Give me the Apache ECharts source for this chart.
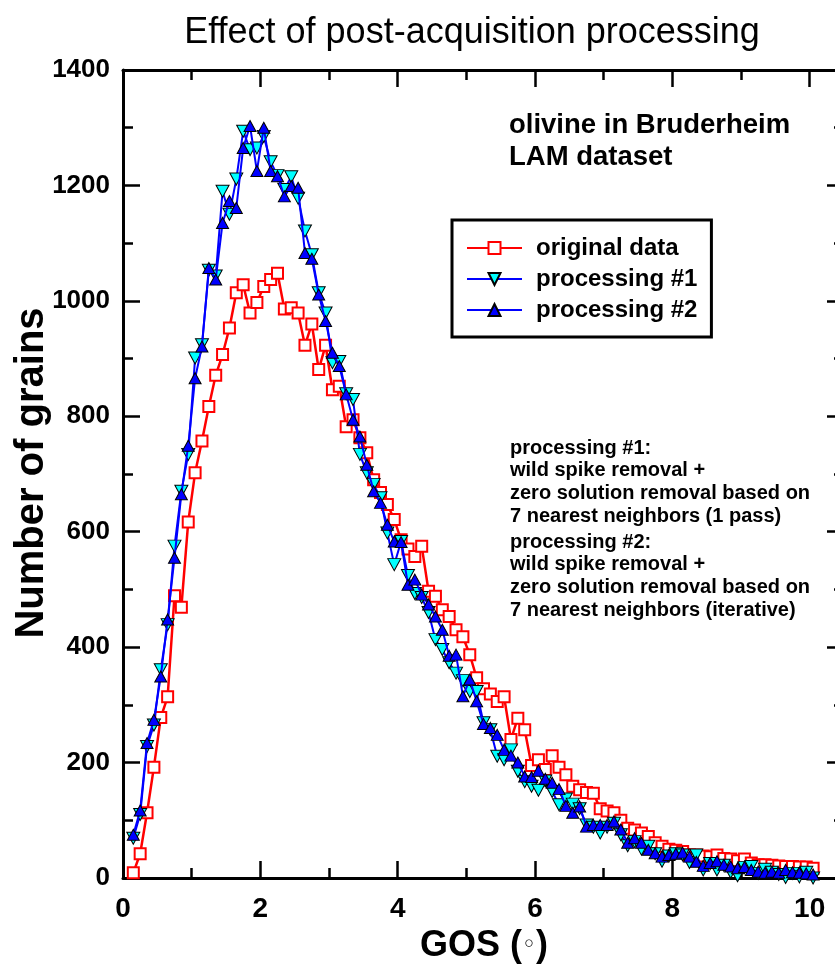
<!DOCTYPE html>
<html><head><meta charset="utf-8">
<script src="https://cdn.jsdelivr.net/npm/echarts@6/dist/echarts.min.js"></script>
<style>html,body{margin:0;padding:0;background:#fff;overflow:hidden}#c{width:835px;height:968px}</style>
</head><body><div id="c"></div>
<script>
// GOS bin centres (degrees)
const gos = [
 0.15,0.25,0.35,0.45,0.55,0.65,0.75,0.85,0.95,1.05,
 1.15,1.25,1.35,1.45,1.55,1.65,1.75,1.85,1.95,2.05,
 2.15,2.25,2.35,2.45,2.55,2.65,2.75,2.85,2.95,3.05,
 3.15,3.25,3.35,3.45,3.55,3.65,3.75,3.85,3.95,4.05,
 4.15,4.25,4.35,4.45,4.55,4.65,4.75,4.85,4.95,5.05,
 5.15,5.25,5.35,5.45,5.55,5.65,5.75,5.85,5.95,6.05,
 6.15,6.25,6.35,6.45,6.55,6.65,6.75,6.85,6.95,7.05,
 7.15,7.25,7.35,7.45,7.55,7.65,7.75,7.85,7.95,8.05,
 8.15,8.25,8.35,8.45,8.55,8.65,8.75,8.85,8.95,9.05,
 9.15,9.25,9.35,9.45,9.55,9.65,9.75,9.85,9.95,10.05];
const originalData = [
 9,42,113,192,278,314,489,469,617,702,
 757,817,871,907,953,1014,1028,979,997,1025,
 1037,1048,986,988,979,923,960,881,923,846,
 852,782,794,763,737,690,668,647,621,586,
 570,557,575,497,488,465,453,430,418,387,
 347,328,319,306,314,240,277,257,195,205,
 188,212,192,179,159,153,148,147,120,116,
 113,100,86,83,78,72,61,55,50,48,
 46,40,40,38,37,40,34,33,30,33,
 26,23,23,22,21,20,20,19,19,17];
const processing1 = [
 69,110,228,265,361,439,575,670,734,901,
 924,1053,1043,1190,1150,1211,1294,1262,1265,1285,
 1241,1217,1193,1215,1178,1121,1080,1014,979,893,
 895,839,829,734,702,682,659,598,543,583,
 524,493,486,460,413,396,373,355,342,323,
 323,269,257,211,205,222,185,167,159,152,
 168,150,127,137,128,120,92,88,78,88,
 95,75,56,63,50,55,42,29,38,42,
 40,27,40,14,25,14,22,10,4,18,
 20,8,15,10,6,1,8,2,10,0];
const processing2 = [
 75,117,234,274,349,448,555,665,749,866,
 921,1057,1037,1135,1173,1161,1265,1303,1225,1300,
 1225,1216,1181,1199,1196,1083,1073,1011,965,910,
 887,838,794,765,716,670,650,612,583,582,
 508,517,491,474,453,430,385,387,315,344,
 306,267,260,248,222,212,200,176,175,186,
 172,165,154,125,113,124,89,92,92,92,
 98,84,61,69,61,49,43,37,40,42,
 44,37,28,21,26,29,23,20,17,19,
 14,11,9,11,9,14,10,9,8,6];
const xTickLabels = [0,2,4,6,8,10];
const yTickLabels = [0,200,400,600,800,1000,1200,1400];
const seriesNames = ['original data','processing #1','processing #2'];
const note1 = ['processing #1:','wild spike removal +','zero solution removal based on','7 nearest neighbors (1 pass)'];
const note2 = ['processing #2:','wild spike removal +','zero solution removal based on','7 nearest neighbors (iterative)'];
const sample = ['olivine in Bruderheim','LAM dataset'];

const F = '"Liberation Sans", Arial, sans-serif';
const tickStyle = {color:'#000', width:2.5};
const lineAx = {show:true, onZero:false, lineStyle:{color:'#000', width:3}};
const noLine = {show:false, onZero:false};

function xAx(pos, major){
  return {
    type:'value', position:pos, min:0, max:10.5, interval: major?2:1,
    axisLine: major ? lineAx : noLine,
    axisTick:{show:true, inside:true, length: major?17:10, lineStyle:tickStyle},
    axisLabel:{show: major && pos==='bottom', margin:17, fontFamily:F, fontWeight:'bold', fontSize:28, color:'#000',
      formatter: v => xTickLabels.includes(v) ? String(v) : ''},
    splitLine:{show:false}
  };
}
function yAx(pos){
  return {
    type:'value', position:pos, min:0, max:1400, interval:200,
    axisLine: lineAx,
    axisTick:{show:true, inside:true, length:17, lineStyle:tickStyle},
    minorTick:{show:true, splitNumber:2, length:10, lineStyle:tickStyle},
    axisLabel:{show: pos==='left', margin:13, fontFamily:F, fontWeight:'bold', fontSize:26, color:'#000',
      formatter: v => yTickLabels.includes(v) ? String(v) : ''},
    splitLine:{show:false}, minorSplitLine:{show:false}
  };
}
function pts(vals){ return gos.map((x,i)=>[x, vals[i]]); }

const chart = echarts.init(document.getElementById('c'), null, {renderer:'canvas'});
const textEls = [];
textEls.push({type:'text', x:472, y:33, style:{text:'Effect of post-acquisition processing', font:'normal 36px '+F, fill:'#000', textAlign:'center', textVerticalAlign:'middle'}});
textEls.push({type:'text', x:32, y:473, rotation:Math.PI/2, style:{text:'Number of grains', font:'bold 40px '+F, fill:'#000', textAlign:'center', textVerticalAlign:'middle'}});
textEls.push({type:'text', x:484, y:946, style:{text:'{a|GOS (}{b|◦}{a|)}', textAlign:'center', textVerticalAlign:'middle',
  rich:{a:{fontFamily:F, fontWeight:'bold', fontSize:36, fill:'#000'}, b:{fontFamily:'DejaVu Sans', fontSize:24, fill:'#000'}}}});
sample.forEach((t,i)=>textEls.push({type:'text', x:509, y:125+i*32, style:{text:t, font:'bold 27.5px '+F, fill:'#000', textAlign:'left', textVerticalAlign:'middle'}}));
note1.forEach((t,i)=>textEls.push({type:'text', x:510, y:448+i*22.7, style:{text:t, font:'bold 20px '+F, fill:'#000', textAlign:'left', textVerticalAlign:'middle'}}));
note2.forEach((t,i)=>textEls.push({type:'text', x:510, y:542+i*22.7, style:{text:t, font:'bold 20px '+F, fill:'#000', textAlign:'left', textVerticalAlign:'middle'}}));

chart.setOption({
  animation:false,
  backgroundColor:'#fff',
  grid:{left:123, width:721, top:70, bottom:90, containLabel:false, outerBoundsMode:'none'},
  xAxis:[xAx('bottom',true), xAx('bottom',false), xAx('top',true), xAx('top',false)],
  yAxis:[yAx('left'), yAx('right')],
  legend:{show:true, orient:'vertical', left:452, top:220, itemWidth:55, itemHeight:15, itemGap:7,
    padding:[16,14,15,14], borderColor:'#000', borderWidth:3, backgroundColor:'#fff', selectedMode:false,
    textStyle:{fontFamily:F, fontWeight:'bold', fontSize:24, color:'#000', lineHeight:24, padding:[0,0,0,9]},
    data:seriesNames},
  series:[
    {name:seriesNames[0], type:'line', xAxisIndex:0, yAxisIndex:0, data:pts(originalData), z:2,
     symbol:'rect', symbolSize:11, showSymbol:true, showAllSymbol:true,
     lineStyle:{color:'#ff0000', width:2.5}, itemStyle:{color:'#ffffff', borderColor:'#ff0000', borderWidth:2},
     emphasis:{disabled:true}},
    {name:seriesNames[1], type:'line', xAxisIndex:0, yAxisIndex:0, data:pts(processing1), z:3,
     symbol:'triangle', symbolRotate:180, symbolSize:[13,12], showSymbol:true, showAllSymbol:true,
     lineStyle:{color:'#0000ff', width:2}, itemStyle:{color:'#00ffff', borderColor:'#000', borderWidth:1},
     emphasis:{disabled:true}},
    {name:seriesNames[2], type:'line', xAxisIndex:0, yAxisIndex:0, data:pts(processing2), z:4,
     symbol:'triangle', symbolSize:[12,11], showSymbol:true, showAllSymbol:true,
     lineStyle:{color:'#0000ff', width:2}, itemStyle:{color:'#0000ff', borderColor:'#000', borderWidth:1},
     emphasis:{disabled:true}}
  ],
  graphic:textEls
});
</script></body></html>
